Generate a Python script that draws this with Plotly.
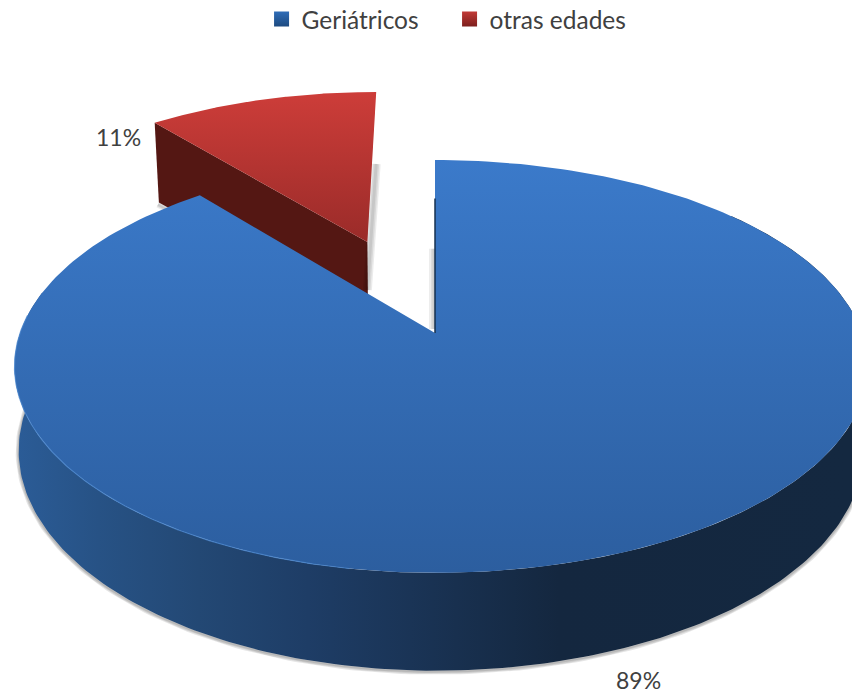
import numpy as np
import plotly.graph_objects as go

# data
CATEGORIES = ["Geriátricos", "otras edades"]
VALUES = [89, 11]

# pie geometry, in pixels of the picture
CX, CY = 435, 333
A, B = 415, 201      # half axes of the disc
A_RIGHT = 427        # the right half runs a little wider, past the picture edge
K = 0.162            # perspective
DEPTH = 82
BOTTOM_SCALE = 0.99
PULL = 0.519

BLUE_TOP = [[0, "#3b7aca"], [1, "#2c5e9f"]]
BLUE_SIDE = [[0, "#2b5c97"], [0.1, "#275285"], [0.22, "#234874"], [0.35, "#1e3d66"],
             [0.65, "#14273f"], [1, "#142840"]]
RED_TOP = [[0, "#cd3d39"], [1, "#9a2b29"]]
RED_WALL = "#541713"
TEXT = "#404040"


def project(u, v, depth=0.0, scale=1.0):
    w = 1 + K * v
    half = np.where(np.asarray(u) > 0, A_RIGHT, A)
    return CX + scale * half * u / w, CY - (B * v - depth) / w


def rim(t0, t1, n=240, off=(0, 0), depth=0.0, scale=1.0):
    t = np.linspace(t0, t1, n)
    return project(off[0] + np.sin(t), off[1] + np.cos(t), depth, scale)


def wedge(t0, t1, off=(0, 0)):
    x, y = rim(t0, t1, off=off)
    ax, ay = project(off[0], off[1])
    return np.r_[ax, x, ax], np.r_[ay, y, ay]


end_blue = 2 * np.pi * VALUES[0] / sum(VALUES)
mid_red = (end_blue + 2 * np.pi) / 2
off_red = (PULL * np.sin(mid_red), PULL * np.cos(mid_red))

fig = go.Figure()


def poly(x, y, **kw):
    fig.add_trace(go.Scatter(x=x, y=y, mode="lines", fill="toself", line=dict(width=0),
                             showlegend=False, hoverinfo="skip", **kw))


def soft_line(x, y, widths, alpha):
    # stacked translucent strokes stand in for a blurred shadow
    for w in widths:
        fig.add_trace(go.Scatter(x=x, y=y, mode="lines",
                                 line=dict(color=f"rgba(0,0,0,{alpha})", width=w),
                                 showlegend=False, hoverinfo="skip"))


# red slice: wall first, then its top
ex, ey = project(off_red[0] + np.sin(end_blue), off_red[1] + np.cos(end_blue))
bx, by = project(off_red[0] + np.sin(end_blue), off_red[1] + np.cos(end_blue), DEPTH + 14, BOTTOM_SCALE - 0.005)
ax, ay = project(*off_red)
cx2, cy2 = project(*off_red, DEPTH, BOTTOM_SCALE)
soft_line([float(bx) - 1, float(cx2)], [by + 2, cy2 + 2], [2, 4, 6], 0.08)
poly([float(ax), float(ex), float(bx), float(cx2), float(ax)], [ay, ey, by, cy2, ay], fillcolor=RED_WALL)
rx, ry = wedge(end_blue, 2 * np.pi, off=off_red)
# shadow right of the red slice
sx, sy = rim(2 * np.pi - 0.001, 2 * np.pi, n=2, off=off_red)
soft_line([sx[-1], float(ax)], [sy[-1] + 72, ay + 48], [3, 6, 9], 0.08)
poly(rx, ry, fillgradient=dict(type="vertical", colorscale=RED_TOP, start=ry.min(), stop=ry.max()))

# blue slice: outer wall with its shadow
bot_x, bot_y = rim(np.radians(50), np.radians(282), depth=DEPTH, scale=BOTTOM_SCALE)
top_x, top_y = rim(np.radians(50), np.radians(282))
soft_line(bot_x, bot_y + 1, [2, 4, 6], 0.1)
poly(np.r_[bot_x, top_x[::-1]], np.r_[bot_y, top_y[::-1]],
     fillgradient=dict(type="horizontal", colorscale=BLUE_SIDE, start=15, stop=852))

# shadow and dark edge of the blue cut
qx, qy = project(0, 0.45)
soft_line([float(qx) - 1, CX - 1], [qy, CY - 4], [3, 6, 10], 0.07)

# blue top
tx, ty = wedge(0, end_blue)
poly(tx, ty, fillgradient=dict(type="vertical", colorscale=BLUE_TOP, start=ty.min(), stop=ty.max()))

# light rim on the front left, dark line on the cut
hx, hy = rim(np.radians(190), np.radians(275))
fig.add_trace(go.Scatter(x=hx, y=hy, mode="lines", line=dict(color="rgba(74,135,208,0.7)", width=1.2),
                         showlegend=False, hoverinfo="skip"))
ux, uy = project(0, 0.75)
fig.add_trace(go.Scatter(x=[float(ux), CX], y=[uy, CY], mode="lines", line=dict(color="#16304f", width=1.5),
                         showlegend=False, hoverinfo="skip"))

# legend entries
for name, color, dark in zip(CATEGORIES, ["#2f6db8", "#c23a36"], ["#1d4a80", "#7d1f1d"]):
    fig.add_trace(go.Scatter(x=[None], y=[None], mode="markers", name=name,
                             marker=dict(symbol="square", size=15, color=color,
                                         gradient=dict(type="vertical", color=dark))))

# percent labels
fig.add_annotation(x=118, y=137, text=f"{VALUES[1]}%", showarrow=False,
                   font=dict(family="Lato", size=23, color=TEXT))
fig.add_annotation(x=638, y=680, text=f"{VALUES[0]}%", showarrow=False,
                   font=dict(family="Lato", size=23, color=TEXT))

fig.update_layout(
    width=852, height=694,
    margin=dict(l=0, r=0, t=0, b=0, autoexpand=False),
    plot_bgcolor="white", paper_bgcolor="white",
    xaxis=dict(range=[0, 852], visible=False, fixedrange=True),
    yaxis=dict(range=[694, 0], visible=False, fixedrange=True),
    font=dict(family="Lato", size=24.5, color=TEXT),
    legend=dict(orientation="h", x=0.307, y=1.005, xanchor="left", yanchor="top",
                entrywidth=143, entrywidthmode="pixels", bgcolor="rgba(0,0,0,0)"),
)

fig.write_html("out.html", config={"displayModeBar": False},
               post_script="document.body.style.margin='0';")
